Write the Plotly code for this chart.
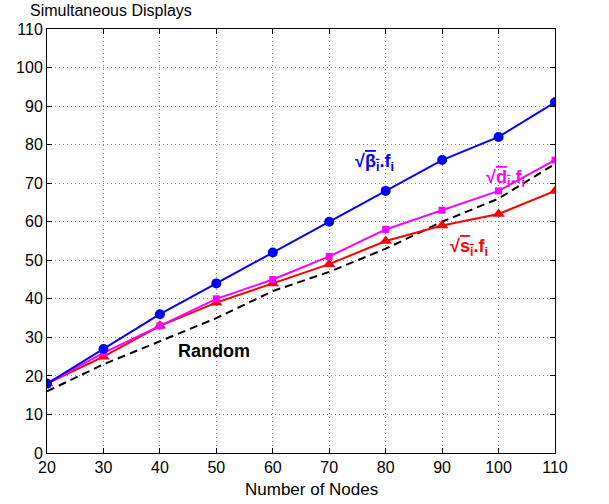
import plotly.graph_objects as go

nodes = [20, 30, 40, 50, 60, 70, 80, 90, 100, 110]
beta = [18, 27, 36, 44, 52, 60, 68, 76, 82, 91]
deg = [18, 26, 33, 40, 45, 51, 58, 63, 68, 76]
sf = [18, 25, 33, 39, 44, 49, 55, 59, 62, 68]
rand = [16, 23, 29, 35, 42, 47, 53, 60, 66, 75]

fig = go.Figure()
fig.add_trace(go.Scatter(x=nodes, y=rand, mode="lines",
                         line=dict(color="black", width=2, dash="8px,5px")))
fig.add_trace(go.Scatter(x=nodes, y=sf, mode="lines+markers",
                         line=dict(color="#ff0000", width=2),
                         marker=dict(symbol="triangle-up", size=11, color="#ff0000")))
fig.add_trace(go.Scatter(x=nodes, y=deg, mode="lines+markers",
                         line=dict(color="#ff00ff", width=2),
                         marker=dict(symbol="square", size=7, color="#ff00ff")))
fig.add_trace(go.Scatter(x=nodes, y=beta, mode="lines+markers",
                         line=dict(color="#0000ff", width=2),
                         marker=dict(symbol="circle", size=10, color="#0000ff")))

font = "Liberation Sans, Arial, sans-serif"
ov = "<span style='text-decoration:overline'>"
ann = [
    dict(x=78, y=75.3, text="<b>√" + ov + "β<sub>i</sub></span>.f<sub>i</sub></b>", color="#0000ff"),
    dict(x=101.3, y=71.3, text="<b>√" + ov + "d<sub>i</sub></span>.f<sub>i</sub></b>", color="#ff00ff"),
    dict(x=94.8, y=53.2, text="<b>√" + ov + "s<sub>i</sub></span>.f<sub>i</sub></b>", color="#ff0000"),
    dict(x=49.5, y=26.5, text="<b>Random</b>", color="black"),
]
for a in ann:
    fig.add_annotation(x=a["x"], y=a["y"], xref="x", yref="y", text=a["text"],
                       showarrow=False, font=dict(family=font, size=18, color=a["color"]))

fig.add_annotation(x=0, y=1, xref="paper", yref="paper", xanchor="left", yanchor="middle",
                   xshift=-19, yshift=19, text="Simultaneous Displays", showarrow=False,
                   font=dict(family=font, size=16, color="black"))
fig.add_annotation(x=0.5, y=0, xref="paper", yref="paper", xanchor="center", yanchor="middle",
                   xshift=10, yshift=-36, text="Number of Nodes", showarrow=False,
                   font=dict(family=font, size=17, color="black"))

axis_common = dict(showline=True, linecolor="black", linewidth=1, mirror="ticks",
                   ticks="inside", ticklen=5, tickcolor="black",
                   showgrid=True, gridcolor="#888888", griddash="1px,3px", gridwidth=1,
                   zeroline=False, tickfont=dict(family=font, size=16, color="black"))

fig.update_layout(
    width=609, height=504,
    margin=dict(l=47, r=54, t=29, b=51),
    paper_bgcolor="white", plot_bgcolor="white",
    showlegend=False,
    xaxis=dict(range=[20, 110], dtick=10, tick0=20, **axis_common),
    yaxis=dict(range=[0, 110], dtick=10, tick0=0, **axis_common),
)
fig.write_html("out.html")
